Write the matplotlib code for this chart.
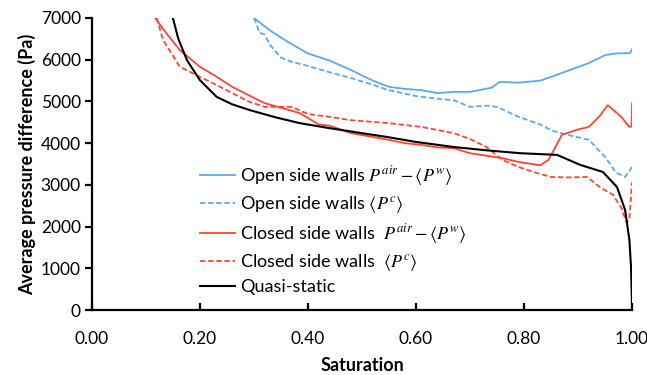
import matplotlib
matplotlib.use("Agg")
import matplotlib.pyplot as plt

# ---- data ----
open_air_s = [0.300, 0.31, 0.33, 0.36, 0.40, 0.44, 0.48, 0.52, 0.55, 0.58, 0.61, 0.64,
              0.67, 0.70, 0.74, 0.755, 0.79, 0.83, 0.85, 0.88, 0.92, 0.95, 0.97, 0.996, 1.0]
open_air_p = [7000, 6900, 6700, 6450, 6150, 5980, 5750, 5500, 5350, 5300, 5270, 5200,
              5230, 5230, 5330, 5470, 5450, 5500, 5590, 5730, 5920, 6110, 6150, 6160, 6250]

open_pc_s = [0.30, 0.305, 0.31, 0.32, 0.33, 0.35, 0.37, 0.40, 0.44, 0.48, 0.52, 0.55, 0.60,
             0.65, 0.67, 0.70, 0.73, 0.75, 0.79, 0.83, 0.85, 0.88, 0.92, 0.95, 0.97, 0.987, 1.0]
open_pc_p = [7000, 6850, 6650, 6600, 6350, 6050, 5950, 5850, 5700, 5560, 5400, 5270, 5130,
             5050, 5030, 4870, 4900, 4870, 4630, 4450, 4310, 4200, 4080, 3670, 3300, 3190, 3430]

closed_air_s = [0.117, 0.14, 0.163, 0.20, 0.23, 0.26, 0.29, 0.32, 0.35, 0.385, 0.42, 0.44,
                0.48, 0.52, 0.55, 0.58, 0.61, 0.64, 0.67, 0.70, 0.73, 0.76, 0.79, 0.83,
                0.845, 0.855, 0.87, 0.90, 0.92, 0.94, 0.955, 0.965, 0.98, 0.995, 0.999, 1.0]
closed_air_p = [7000, 6600, 6230, 5830, 5600, 5350, 5150, 4960, 4850, 4720, 4450, 4420,
                4240, 4150, 4080, 4000, 3960, 3900, 3880, 3760, 3700, 3640, 3550, 3470,
                3600, 3830, 4200, 4330, 4390, 4650, 4910, 4800, 4630, 4390, 4400, 4960]

closed_pc_s = [0.12, 0.132, 0.163, 0.20, 0.23, 0.26, 0.29, 0.32, 0.37, 0.40, 0.44, 0.48,
               0.55, 0.61, 0.67, 0.70, 0.73, 0.76, 0.79, 0.82, 0.85, 0.88, 0.917, 0.94,
               0.965, 0.98, 0.99, 0.995, 1.0]
closed_pc_p = [7000, 6470, 5830, 5590, 5400, 5200, 5000, 4870, 4870, 4700, 4630, 4550,
               4480, 4390, 4240, 4100, 3910, 3600, 3430, 3300, 3190, 3180, 3190, 2950,
               2760, 2450, 2090, 2200, 3070]

quasi_s = [0.150, 0.16, 0.176, 0.20, 0.231, 0.26, 0.293, 0.34, 0.385, 0.44, 0.50, 0.546,
           0.60, 0.669, 0.73, 0.793, 0.861, 0.904, 0.946, 0.972, 0.987, 0.995, 0.998, 1.0]
quasi_p = [7000, 6500, 5990, 5510, 5110, 4930, 4790, 4620, 4480, 4360, 4240, 4150,
           4030, 3910, 3830, 3760, 3720, 3480, 3310, 2950, 2400, 1680, 1030, 0]

x_ticks = [0.0, 0.2, 0.4, 0.6, 0.8, 1.0]
y_ticks = [0, 1000, 2000, 3000, 4000, 5000, 6000, 7000]

labels = [r"Open side walls $P^{air}-\langle P^{w}\rangle$",
          r"Open side walls $\langle P^{c}\rangle$",
          r"Closed side walls  $P^{air}-\langle P^{w}\rangle$",
          r"Closed side walls  $\langle P^{c}\rangle$",
          "Quasi-static"]

blue = "#5aa9ef"
red = "#ff4433"

plt.rcParams['font.family'] = ['Lato', 'DejaVu Sans']
plt.rcParams['mathtext.fontset'] = 'stix'

fig = plt.figure(figsize=(6.47, 3.75), dpi=100)
ax = fig.add_axes([0.142, 0.173, 0.835, 0.779])

lw = 1.3
ax.plot(open_air_s, open_air_p, color=blue, lw=lw, label=labels[0])
ax.plot(open_pc_s, open_pc_p, color=blue, lw=lw, ls=(0, (3, 1.5)), label=labels[1])
ax.plot(closed_air_s, closed_air_p, color=red, lw=lw, label=labels[2])
ax.plot(closed_pc_s, closed_pc_p, color=red, lw=lw, ls=(0, (3, 1.5)), label=labels[3])
ax.plot(quasi_s, quasi_p, color="black", lw=1.5, label=labels[4])

ax.set_xlim(0, 1.0)
ax.set_ylim(0, 7000)
ax.set_xticks(x_ticks)
ax.set_xticklabels([f"{v:.2f}" for v in x_ticks])
ax.set_yticks(y_ticks)
ax.set_yticklabels([str(v) for v in y_ticks])

for side in ("top", "right"):
    ax.spines[side].set_visible(False)
for side in ("left", "bottom"):
    ax.spines[side].set_linewidth(1.6)
    ax.spines[side].set_color("black")

ax.tick_params(axis="x", direction="in", length=5, width=1.6, labelsize=12.5, pad=15)
ax.tick_params(axis="y", direction="out", length=5, width=1.6, labelsize=12.5, pad=3)

ax.set_xlabel("Saturation", fontsize=13, fontweight="bold", labelpad=7)
ax.set_ylabel("Average pressure difference (Pa)", fontsize=13, fontweight="bold", labelpad=3)

leg = ax.legend(loc="upper left", bbox_to_anchor=(0.2, 0.50), frameon=False,
                fontsize=13, handlelength=1.95, handletextpad=0.25, labelspacing=0.35,
                borderaxespad=0, borderpad=0)

fig.savefig("out.png", dpi=100)
